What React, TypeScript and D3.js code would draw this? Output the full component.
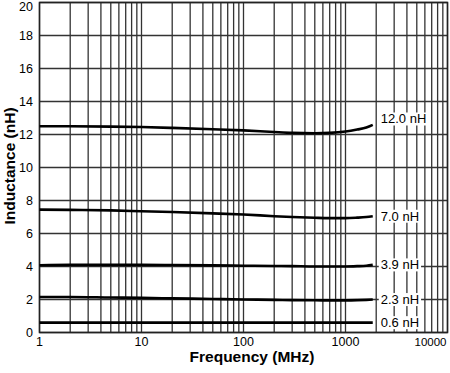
import { useEffect, useRef } from 'react'
import * as d3 from 'd3'

// frequencies in MHz, inductance in nH
const freqs = [1, 2, 5, 10, 20, 50, 100, 200, 300, 500, 700, 1000, 1300, 1600, 1850]
const l120 = [12.5, 12.5, 12.48, 12.45, 12.4, 12.32, 12.25, 12.15, 12.1, 12.08, 12.1, 12.18, 12.3, 12.42, 12.58]
const l70 = [7.45, 7.43, 7.4, 7.35, 7.3, 7.22, 7.15, 7.05, 7.0, 6.95, 6.93, 6.93, 6.96, 7.0, 7.05]
const l39 = [4.08, 4.1, 4.1, 4.1, 4.09, 4.07, 4.05, 4.03, 4.02, 4.0, 4.0, 4.0, 4.02, 4.05, 4.1]
const l23 = [2.15, 2.15, 2.12, 2.1, 2.07, 2.03, 2.0, 1.98, 1.96, 1.95, 1.95, 1.95, 1.96, 1.98, 2.0]
const l06 = [0.6, 0.6, 0.6, 0.6, 0.6, 0.6, 0.6, 0.6, 0.6, 0.6, 0.6, 0.6, 0.6, 0.6, 0.6]
const series = [l120, l70, l39, l23, l06]
const seriesLabels = ['12.0 nH', '7.0 nH', '3.9 nH', '2.3 nH', '0.6 nH']

const xTicks = [1, 10, 100, 1000, 10000]
const yTicks = [0, 2, 4, 6, 8, 10, 12, 14, 16, 18, 20]

export default function App() {
  const ref = useRef<SVGSVGElement | null>(null)

  useEffect(() => {
    const el = ref.current
    if (!el) return
    const svg = d3.select(el)
    svg.selectAll('*').remove()

    const m = { top: 2.5, right: 2.5, bottom: 40.5, left: 39.5 }
    const width = 450
    const height = 373
    const iw = width - m.left - m.right
    const ih = height - m.top - m.bottom
    const font = 'Liberation Sans, Arial, sans-serif'

    const x = d3.scaleLog().domain([1, 10000]).range([0, iw])
    const y = d3.scaleLinear().domain([0, 20]).range([ih, 0])

    const g = svg.append('g').attr('transform', `translate(${m.left},${m.top})`)

    // minor + major vertical grid
    const vGrid: number[] = []
    for (let d = 1; d < 10000; d *= 10) for (let k = 1; k < 10; k++) vGrid.push(d * k)
    vGrid.push(10000)
    g.selectAll('line.vg').data(vGrid).join('line')
      .attr('x1', d => x(d)).attr('x2', d => x(d))
      .attr('y1', 0).attr('y2', ih)
      .attr('stroke', '#333').attr('stroke-width', 1.3)

    g.selectAll('line.hg').data(yTicks).join('line')
      .attr('x1', 0).attr('x2', iw)
      .attr('y1', d => y(d)).attr('y2', d => y(d))
      .attr('stroke', '#333').attr('stroke-width', 1.3)

    g.append('rect').attr('width', iw).attr('height', ih)
      .attr('fill', 'none').attr('stroke', '#222').attr('stroke-width', 1.5)

    const line = d3.line<number>()
      .x((_, i) => x(freqs[i]))
      .y(v => y(v))
      .curve(d3.curveMonotoneX)

    series.forEach((s, i) => {
      g.append('path').attr('d', line(s))
        .attr('fill', 'none').attr('stroke', '#000').attr('stroke-width', 2.6)
      const last = s[s.length - 1]
      const lx = x(freqs[freqs.length - 1]) + 8
      const ly = y(last) + (i === 0 ? -6 : 0)
      const t = g.append('text')
        .attr('x', lx).attr('y', ly).attr('dy', '0.35em')
        .attr('font-family', font).attr('font-size', 13)
        .attr('fill', '#000').text(seriesLabels[i])
      const bb = (t.node() as SVGTextElement).getBBox()
      g.insert('rect', () => t.node())
        .attr('x', bb.x - 2).attr('y', bb.y + 1)
        .attr('width', bb.width + 4).attr('height', bb.height - 2)
        .attr('fill', '#fff')
    })

    // last label sits flush with the right edge, a touch smaller
    g.selectAll('text.xt').data(xTicks).join('text')
      .attr('x', d => (d === 10000 ? iw - 1 : x(d)))
      .attr('y', ih + 13)
      .attr('text-anchor', d => (d === 10000 ? 'end' : 'middle'))
      .attr('font-family', font).attr('font-size', d => (d === 10000 ? 11.5 : 12.5))
      .text(d => String(d))

    g.selectAll('text.yt').data(yTicks).join('text')
      .attr('x', -6.5).attr('y', d => Math.max(y(d), 4.5)).attr('dy', '0.35em')
      .attr('text-anchor', 'end')
      .attr('font-family', font).attr('font-size', 12.5)
      .text(d => String(d))

    svg.append('text')
      .attr('x', 252).attr('y', 361.5)
      .attr('text-anchor', 'middle')
      .attr('font-family', font).attr('font-size', 15.5).attr('font-weight', 'bold')
      .text('Frequency (MHz)')

    svg.append('text')
      .attr('transform', `translate(14.5,166) rotate(-90)`)
      .attr('text-anchor', 'middle')
      .attr('font-family', font).attr('font-size', 15.5).attr('font-weight', 'bold')
      .text('Inductance (nH)')
  }, [])

  return (
    <svg ref={ref} width={450} height={373}
      style={{ position: 'absolute', left: 0, top: 0, background: '#fff' }} />
  )
}
